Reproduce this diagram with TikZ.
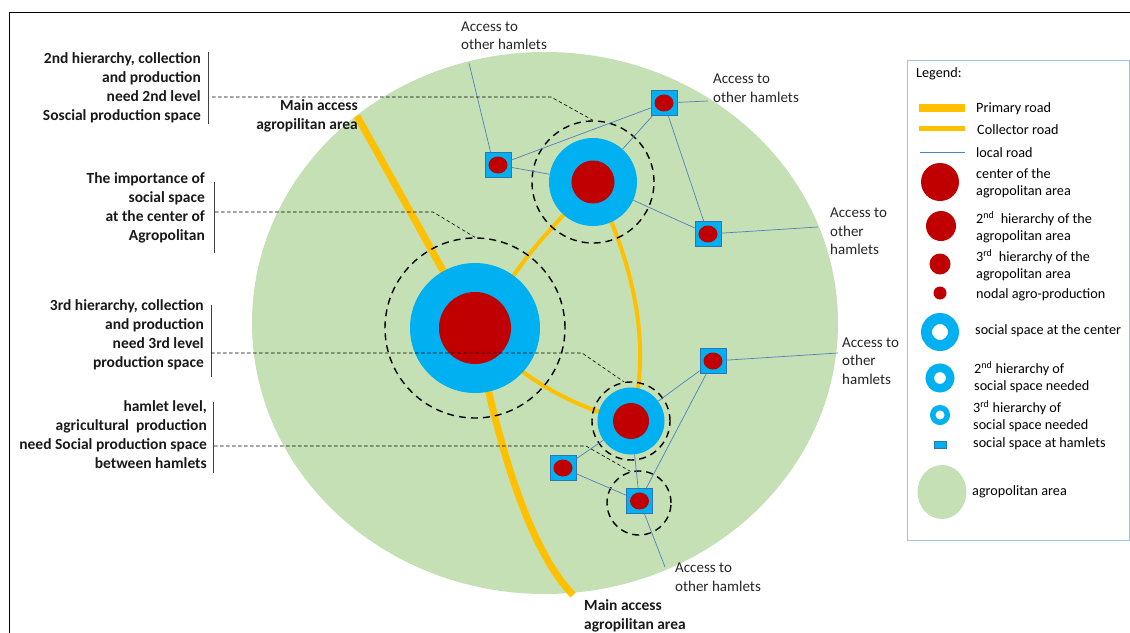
\documentclass[tikz,border=0pt]{standalone}
\usepackage{fontspec}
\setmainfont{Carlito}
\usepackage{tikz}

\definecolor{agrogreen}{RGB}{197,224,180}
\definecolor{agrored}{RGB}{192,0,0}
\definecolor{socblue}{RGB}{0,176,240}
\definecolor{roadorange}{RGB}{255,192,0}
\definecolor{localblue}{RGB}{79,129,189}
\definecolor{hamletedge}{RGB}{46,117,182}
\definecolor{legendedge}{RGB}{157,195,230}

\begin{document}
\begin{tikzpicture}[x=1pt,y=-1pt,
  primary/.style={roadorange, line width=7pt},
  collector/.style={roadorange, line width=4pt},
  localroad/.style={localblue, line width=0.7pt},
  leader/.style={line width=0.6pt, dash pattern=on 3.5pt off 2.5pt},
  ring/.style={circle, draw, line width=1.4pt, dash pattern=on 7pt off 5pt, inner sep=0pt},
  social/.style={circle, fill=socblue, inner sep=0pt},
  centre/.style={circle, fill=agrored, inner sep=0pt},
  hamlet/.style={draw=hamletedge, fill=socblue, line width=0.7pt, minimum width=26pt, minimum height=25pt, inner sep=0pt},
  note/.style={font=\bfseries\fontsize{15.5}{19}\selectfont, align=right, anchor=east, inner sep=0pt, text=black!90},
  access/.style={font=\fontsize{15}{18.5}\selectfont, align=left, anchor=west, inner sep=0pt, text=black!85},
  legtext/.style={font=\fontsize{14.2}{17}\selectfont, align=left, anchor=west, inner sep=0pt}]

\useasboundingbox (0,0) rectangle (1130,632);
\draw[line width=0.8pt] (9.5,645) -- (9.5,12) -- (1140,12);

% agropolitan area
\fill[agrogreen] (545,323) ellipse (293 and 271);

\coordinate (p1) at (475,328);
\coordinate (p2) at (593,182);
\coordinate (p3) at (631,421);
\coordinate (ma1) at (357,116);
\coordinate (ma2) at (573,595);

% roads
\draw[primary] (ma1) -- (p1);
\draw[primary] (p1) .. controls (495,430) and (525,545) .. (ma2);
\draw[collector] (p1) -- (527,257) -- (541,240) -- (p2);
\draw[collector] (p2) .. controls (628,250) and (655,340) .. (p3);
\draw[collector] (p1) .. controls (520,380) and (580,410) .. (p3);

% social space needed
\node[ring, minimum size=180] (d1) at (p1) {};
\node[ring, minimum size=122] (d2) at (p2) {};
\node[ring, minimum size=78] (d3) at (p3) {};
\node[ring, minimum size=64] (d4) at (639,503) {};

\node[social, minimum size=130] (c1) at (p1) {};
\node[centre, minimum size=72] (r1) at (p1) {};
\node[social, minimum size=88] (c2) at (p2) {};
\node[centre, minimum size=43] (r2) at (p2) {};
\node[social, minimum size=67] (c3) at (p3) {};
\node[centre, minimum size=36] (r3) at (p3) {};

% hamlets
\node[hamlet] (h1) at (498,165) {};
\node[hamlet] (h2) at (664,103) {};
\node[hamlet] (h3) at (708,234) {};
\node[hamlet] (h4) at (713,361) {};
\node[hamlet] (h5) at (563,468) {};
\node[hamlet] (h6) at (639.5,501) {};
\foreach \h in {h1,h2,h3,h4,h5,h6}
  \fill[agrored] (\h) ellipse (9.5 and 8.5);

\coordinate (a1) at (469,63);
\coordinate (a2) at (708,101);
\coordinate (a3) at (818,227);
\coordinate (a4) at (838,353);
\coordinate (a5) at (665,567);

% local roads
\draw[localroad] (h1.120) -- (a1);
\draw[localroad] (h1) -- (h2);
\draw[localroad] (h1) -- (c2);
\draw[localroad] (h2) -- (c2);
\draw[localroad] (h2) -- (a2);
\draw[localroad] (h2) -- (h3);
\draw[localroad] (c2) -- (h3);
\draw[localroad] (h3) -- (a3);
\draw[localroad] (h4) -- (a4);
\draw[localroad] (h4) -- (c3);
\draw[localroad] (h4) -- (h6);
\draw[localroad] (c3) -- (h5);
\draw[localroad] (c3) -- (h6);
\draw[localroad] (h5) -- (h6);
\draw[localroad] (h6) -- (a5);

\node[access] (t1) at (461,35.5) {Access to\\other hamlets};
\node[access] (t2) at (713,88) {Access to\\other hamlets};
\node[access] (t3) at (830,231.5) {Access to\\other\\hamlets};
\node[access] (t4) at (842,361) {Access to\\other\\hamlets};
\node[access] (t5) at (675,577) {Access to\\other hamlets};

\node[note] (m1) at (358,116) {Main access\\agropilitan area};
\node[note, anchor=west, align=left] (m2) at (584,616) {Main access\\agropilitan area};

% notes on the left
\node[note] (n1) at (201,88) {2nd hierarchy, collection\\and production\\need 2nd level\\Soscial production space};
\node[note] (n2) at (205,208) {The importance of\\social space\\at the center of\\Agropolitan};
\node[note] (n3) at (204,335) {3rd hierarchy, collection\\and production\\need 3rd level\\production space};
\node[note] (n4) at (207,435) {hamlet level,\\agricultural\ \ production\\need Social production space\\between hamlets};

\draw[black!75, line width=0.8pt] (208,52) -- (208,124);
\draw[black!75, line width=0.8pt] (214,182) -- (214,253);
\draw[black!75, line width=0.8pt] (211,305) -- (211,377);
\draw[black!75, line width=0.8pt] (213,402) -- (213,473);

\draw[leader] (212,97) -- (551,97) -- (d2.north);
\draw[leader] (215,212) -- (433,212) -- (d1.north);
\draw[leader] (211,353) -- (582,353) -- (d3.100);
\draw[leader] (214,446) -- (586,446) -- (d4.105);

% legend
\draw[legendedge, line width=0.8pt] (907,60) rectangle (1129,540);
\node[legtext] (lg) at (916,74) {Legend:};
\draw[roadorange, line width=8.5pt] (919,108) -- (965,108);
\node[legtext] (l1) at (976,109) {Primary road};
\draw[roadorange, line width=5pt] (919,128) -- (965,128);
\node[legtext] (l2) at (977,130) {Collector road};
\draw[localroad] (920,152) -- (965,152);
\node[legtext] (l3) at (976,153) {local road};
\fill[agrored] (940,182) circle (19);
\node[legtext] (l4) at (976,183) {center of the\\agropolitan area};
\fill[agrored] (941,226) circle (15);
\node[legtext] (l5) at (976,227) {2\textsuperscript{nd}\ \ hierarchy of the\\agropolitan area};
\fill[agrored] (940,264) circle (10.5);
\node[legtext] (l6) at (976,265) {3\textsuperscript{rd}\ \ hierarchy of the\\agropolitan area};
\fill[agrored] (940,293) circle (6.5);
\node[legtext] (l7) at (976,295) {nodal agro-production};
\draw[socblue, line width=11pt] (940,332) circle (13.5);
\node[legtext] (l8) at (975,331) {social space at the center};
\draw[socblue, line width=8.5pt] (940,378) circle (10.25);
\node[legtext] (l9) at (974,377) {2\textsuperscript{nd} hierarchy of\\social space needed};
\draw[socblue, line width=5.5pt] (940,415) circle (7.25);
\node[legtext] (l10) at (973,416) {3\textsuperscript{rd} hierarchy of\\social space needed};
\filldraw[fill=socblue, draw=hamletedge, line width=0.6pt] (934,441) rectangle (946,448);
\node[legtext] (l11) at (973,444) {social space at hamlets};
\fill[agrogreen] (942,492) ellipse (24.5 and 27);
\node[legtext] (l12) at (972,492) {agropolitan area};

\end{tikzpicture}
\end{document}
